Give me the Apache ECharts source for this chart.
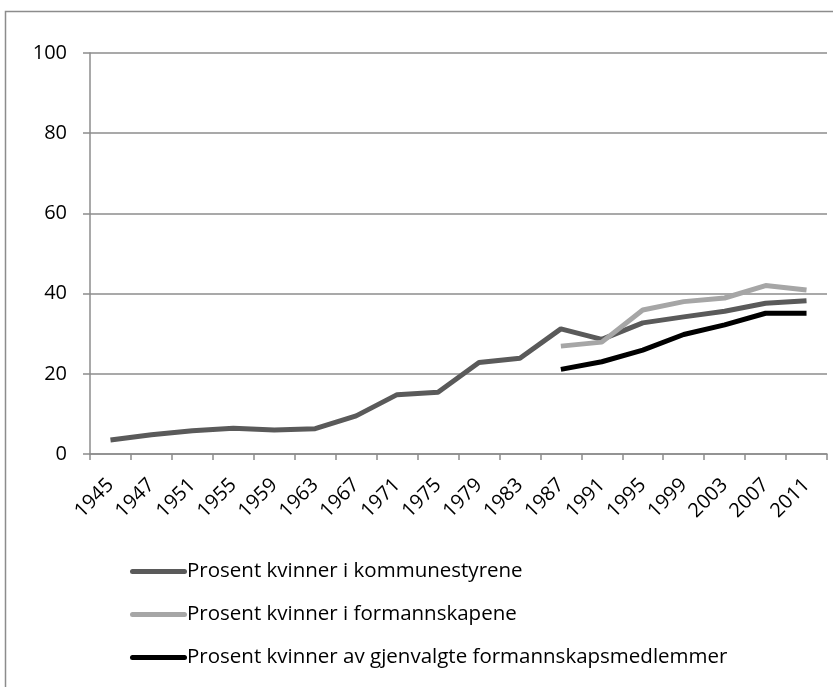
<!DOCTYPE html>
<html>
<head>
<meta charset="utf-8">
<script src="https://cdn.jsdelivr.net/npm/echarts@6/dist/echarts.min.js"></script>
<style>html,body{margin:0;padding:0;background:#fff}#c{width:833px;height:687px}</style>
</head>
<body>
<div id="c"></div>
<script>
var years = ['1945','1947','1951','1955','1959','1963','1967','1971','1975','1979','1983','1987','1991','1995','1999','2003','2007','2011'];
var kommunestyrene = [3.5,4.8,5.8,6.4,6.0,6.3,9.5,14.8,15.4,22.8,23.9,31.2,28.6,32.7,34.2,35.6,37.6,38.2];
var formannskapene = [null,null,null,null,null,null,null,null,null,null,null,26.9,27.9,35.9,38.0,38.9,42.0,40.9];
var gjenvalgte = [null,null,null,null,null,null,null,null,null,null,null,21.1,23.0,25.9,29.8,32.2,35.1,35.1];
var names = ['Prosent kvinner i kommunestyrene','Prosent kvinner i formannskapene','Prosent kvinner av gjenvalgte formannskapsmedlemmer'];
var yTicks = {min:0, max:100, interval:20};

var font = '"Open Sans", sans-serif';
var chart = echarts.init(document.getElementById('c'));
function ser(name, data, color){
  return {name:name, type:'line', data:data, symbol:'none', showSymbol:false,
    lineStyle:{color:color, width:5}, itemStyle:{color:color}, connectNulls:false, animation:false};
}
chart.setOption({
  animation:false,
  graphic:[{type:'rect', shape:{x:5.5,y:11.5,width:900,height:900}, style:{fill:'none', stroke:'#8c8c8c', lineWidth:1.5}, silent:true}],
  grid:{left:90, right:6, top:53, bottom:233},
  xAxis:{type:'category', data:years, boundaryGap:true,
    axisLine:{lineStyle:{color:'#8c8c8c', width:1.5}},
    axisTick:{show:true, length:6, lineStyle:{color:'#8c8c8c', width:1.5}},
    axisLabel:{rotate:45, interval:0, margin:28, color:'#000', fontSize:20, fontFamily:font}},
  yAxis:{type:'value', min:yTicks.min, max:yTicks.max, interval:yTicks.interval,
    axisLine:{show:true, lineStyle:{color:'#8c8c8c', width:1.5}},
    axisTick:{show:true, length:7, lineStyle:{color:'#8c8c8c', width:1.5}},
    splitLine:{lineStyle:{color:'#8c8c8c', width:1.5}},
    axisLabel:{margin:23, color:'#000', fontSize:20, fontFamily:font}},
  legend:{orient:'vertical', left:125, top:556, itemWidth:57, itemHeight:5, itemGap:22,
    icon:'path://M2.5,0 L54.5,0 A2.5,2.5 0 0 1 54.5,5 L2.5,5 A2.5,2.5 0 0 1 2.5,0 Z',
    textStyle:{fontSize:20.5, fontFamily:font, color:'#000', padding:[0,0,0,-5]},
    data:names},
  series:[ser(names[0], kommunestyrene, '#5a5a5a'), ser(names[1], formannskapene, '#a6a6a6'), ser(names[2], gjenvalgte, '#000000')]
});
</script>
</body>
</html>
